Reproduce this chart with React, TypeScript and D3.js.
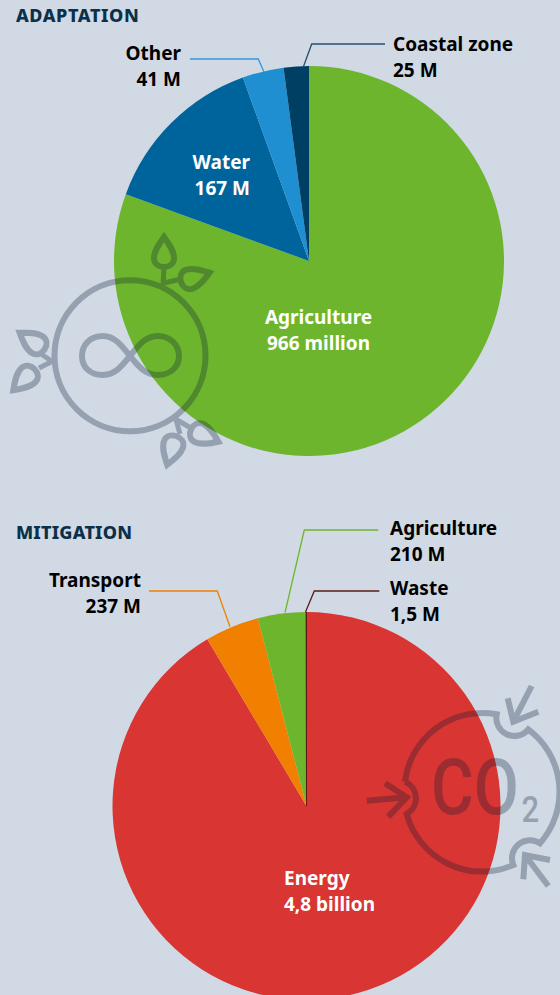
import React from 'react';
import * as d3 from 'd3';

// values in millions, clockwise from 12 o'clock
const adaptationNames = ['Agriculture', 'Water', 'Other', 'Coastal zone'];
const adaptationValues = [966, 167, 41, 25];
const adaptationColors = ['#6eb52e', '#00649c', '#1f8fd1', '#003f64'];

const mitigationNames = ['Energy', 'Transport', 'Agriculture', 'Waste'];
const mitigationValues = [4800, 237, 210, 1.5];
const mitigationColors = ['#d83533', '#f18000', '#6eb52e', '#5a1d16'];

const font = '"Noto Sans", sans-serif';
const bg = '#d0d9e4';
const iconColor = '#001530';

const Pie = ({cx, cy, r, names, values, colors}) => {
  const slices = d3.pie().sort(null)(values);
  const arc = d3.arc().innerRadius(0).outerRadius(r);
  return (
    <g transform={`translate(${cx},${cy})`}>
      {slices.map((s, i) => (
        <path key={names[i]} d={arc(s)} fill={colors[i]}
          stroke={names[i] === 'Waste' ? colors[i] : 'none'} strokeWidth={1} />
      ))}
    </g>
  );
};

const Label = ({x, y, anchor = 'start', fill = '#000', lines}) => (
  <text x={x} y={y} textAnchor={anchor} fill={fill} fontFamily={font} fontWeight={700} fontSize={19}>
    {lines.map((t, i) => <tspan key={t} x={x} dy={i ? 26 : 0}>{t}</tspan>)}
  </text>
);

const Title = ({y, spacing, children}) => (
  <text x={16} y={y} fill="#0b3049" fontFamily={font} fontWeight={800} fontSize={18} letterSpacing={spacing}>{children}</text>
);

const Leader = ({points, color}) => (
  <polyline points={points} fill="none" stroke={color} strokeWidth={1.3} />
);

const leaf = 'M0,-30 C5,-23 10,-16 10,-9 C10,-3 5,0 0,0 C-5,0 -10,-3 -10,-9 C-10,-16 -5,-23 0,-30 Z';
const leaves = [
  [164, 267, 0], [181, 282, 72],
  [44.5, 349.5, -56], [34.5, 369, -135],
  [176, 436, 197], [191, 429.5, 114],
];
const stems = [
  'M163,285 L164,268', 'M164,283 L181,279',
  'M53,362 L41,354', 'M53,361 L39,368',
  'M175,416 L180,434', 'M177,420 L191,428',
];

const InfinityIcon = () => (
  <g opacity={0.28} fill="none" stroke={iconColor} strokeWidth={6}>
    <circle cx={130} cy={355.7} r={75.5} />
    <path d="M130,356 C122,346 115,336 103,336 C90,336 82,345 82,356 C82,367 90,375 103,375 C115,375 122,366 130,356 C138,346 145,336 158,336 C170,336 179,345 179,356 C179,367 170,375 158,375 C145,375 138,366 130,356 Z" />
    {leaves.map(([x, y, a]) => <path key={`${x}`} d={leaf} transform={`translate(${x},${y}) rotate(${a})`} />)}
    {stems.map(d => <path key={d} d={d} strokeWidth={5} />)}
  </g>
);

const Co2Icon = () => (
  <g opacity={0.28}>
    <g fill="none" stroke={iconColor} strokeWidth={6}>
      <path d="M405,781.7 A78,78 0 0 1 496.7,714.3 A18,18 0 0 0 528.3,729.3 A78,78 0 0 1 540,843.3 A18,18 0 0 0 513.3,865 A78,78 0 0 1 406.7,814 A18,18 0 0 0 405,781.7" />
      <path d="M366.7,800.7 L406.7,797.3 M385,783.3 L406.7,797.3 L388.3,816.7" />
      <path d="M531.7,686 L513.3,721.7 M507.7,698.3 L513.3,721.7 L538.3,711.7" />
      <path d="M548.3,886 L525,855 M523.3,879.3 L525,855 L550,860" />
    </g>
    <text transform="translate(431,814) scale(0.84,1)" fill={iconColor}
      fontFamily="Roboto, sans-serif" fontWeight={500} fontSize={78}>
      CO<tspan dx={3} dy={8} fontSize={37}>2</tspan>
    </text>
  </g>
);

export default function App() {
  return (
    <svg width={560} height={995} viewBox="0 0 560 995"
      style={{position: 'absolute', left: 0, top: 0, display: 'block', background: bg}}>
      <Title y={22} spacing={0.6}>ADAPTATION</Title>
      <Pie cx={309} cy={261} r={195} names={adaptationNames} values={adaptationValues} colors={adaptationColors} />
      <InfinityIcon />
      <Leader points="190,59 258.3,59 264,72" color="#2f9ad8" />
      <Leader points="385,44 311.7,44 303.3,67" color="#24506f" />
      <Label x={181} y={60} anchor="end" lines={['Other', '41 M']} />
      <Label x={393} y={51} lines={['Coastal zone', '25 M']} />
      <Label x={250} y={169} anchor="end" fill="#fff" lines={['Water', '167 M']} />
      <Label x={318.5} y={324} anchor="middle" fill="#fff" lines={['Agriculture', '966 million']} />

      <Title y={539} spacing={0.2}>MITIGATION</Title>
      <Pie cx={306.5} cy={806} r={194} names={mitigationNames} values={mitigationValues} colors={mitigationColors} />
      <Co2Icon />
      <Leader points="378.3,530 304.3,530 285,612.7" color="#6eb52e" />
      <Leader points="149,591 217.3,591 230,626.7" color="#f18000" />
      <Leader points="379.3,591 314.3,591 305.5,612" color="#5a1d16" />
      <Label x={141} y={587} anchor="end" lines={['Transport', '237 M']} />
      <Label x={390} y={535} lines={['Agriculture', '210 M']} />
      <Label x={390} y={595} lines={['Waste', '1,5 M']} />
      <Label x={284} y={885} fill="#fff" lines={['Energy', '4,8 billion']} />
    </svg>
  );
}
